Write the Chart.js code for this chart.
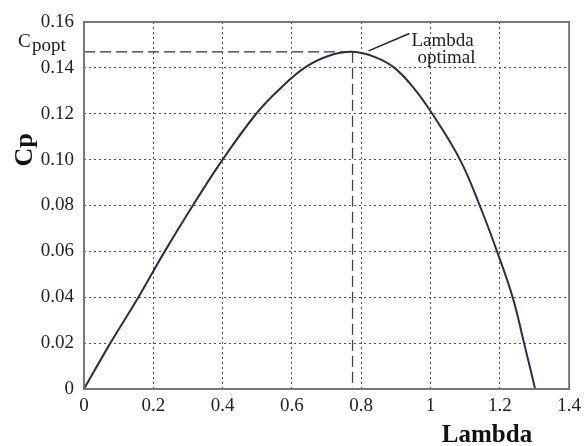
<!DOCTYPE html>
<html>
<head>
<meta charset="utf-8">
<script src="https://cdn.jsdelivr.net/npm/chart.js@4/dist/chart.umd.min.js"></script>
<style>
  html, body { margin: 0; padding: 0; background: #fff; }
  canvas { display: block; }
</style>
</head>
<body>
<canvas id="chartCp" width="587" height="446"></canvas>
<script>
const lambdaVals = [0, 0.076, 0.157, 0.233, 0.314, 0.40, 0.497, 0.565, 0.636, 0.705, 0.775, 0.84, 0.896, 0.95, 1.005, 1.085, 1.142, 1.192, 1.237, 1.27, 1.302];
const cpVals     = [0, 0.02, 0.04, 0.06, 0.08, 0.10, 0.12, 0.1308, 0.14, 0.1452, 0.147, 0.1447, 0.14, 0.1315, 0.12, 0.10, 0.08, 0.06, 0.04, 0.02, 0];

// Optimum point
const lambdaOpt = 0.775;
const cpOpt = 0.147;

// Tick labels
const xTicks = ['0', '0.2', '0.4', '0.6', '0.8', '1', '1.2', '1.4'];
const yTicks = ['0', '0.02', '0.04', '0.06', '0.08', '0.10', '0.12', '0.14', '0.16'];

const ctx = document.getElementById('chartCp').getContext('2d');
const serif = "'Liberation Serif', 'Times New Roman', serif";

const curve = lambdaVals.map((l, i) => ({ x: l, y: cpVals[i] }));

// Texts, frame and pointer drawn over the chart
const overlay = {
    id: 'overlay',
    afterDraw(chart) {
        const c = chart.ctx;
        const area = chart.chartArea;
        const xs = chart.scales.x;
        const ys = chart.scales.y;
        c.save();

        // frame around the plot
        c.strokeStyle = '#777';
        c.lineWidth = 2;
        c.strokeRect(area.left, area.top, area.right - area.left, area.bottom - area.top);

        // axis titles
        c.fillStyle = '#111';
        c.font = 'bold 25px ' + serif;
        c.textAlign = 'center';
        c.textBaseline = 'alphabetic';
        c.fillText('Lambda', 487, 442);

        c.save();
        c.translate(32, 150);
        c.rotate(-Math.PI / 2);
        c.font = 'bold 26px ' + serif;
        c.fillText('Cp', 0, 0);
        c.restore();

        // Cpopt label next to the dashed line
        const yOpt = ys.getPixelForValue(cpOpt);
        c.fillStyle = '#222';
        c.textAlign = 'left';
        c.font = '19px ' + serif;
        c.fillText('C', 18, yOpt - 5);
        c.fillText('popt', 32, yOpt - 1);

        // pointer to the optimum
        const x1 = xs.getPixelForValue(lambdaOpt) + 16;
        const y1 = yOpt - 1;
        const x2 = xs.getPixelForValue(0.939);
        const y2 = ys.getPixelForValue(0.155);
        c.strokeStyle = '#222';
        c.lineWidth = 1.5;
        c.beginPath();
        c.moveTo(x1, y1);
        c.lineTo(x2, y2);
        c.stroke();

        c.fillStyle = '#222';
        c.font = '19px ' + serif;
        c.fillText('Lambda', x2 + 2, y2 + 13);
        c.fillText('optimal', x2 + 8, y2 + 30);

        c.restore();
    }
};

const config = {
    type: 'scatter',
    data: {
        datasets: [
            {
                label: 'Cp',
                data: curve,
                showLine: true,
                borderColor: '#2b2b55',
                borderWidth: 2,
                pointRadius: 0,
                tension: 0.4
            },
            {
                label: 'Cp opt',
                data: [{ x: 0, y: cpOpt }, { x: lambdaOpt, y: cpOpt }],
                showLine: true,
                borderColor: '#333',
                borderWidth: 1.3,
                borderDash: [11, 5],
                pointRadius: 0
            },
            {
                label: 'Lambda opt',
                data: [{ x: lambdaOpt, y: cpOpt }, { x: lambdaOpt, y: 0 }],
                showLine: true,
                borderColor: '#444',
                borderWidth: 1.3,
                borderDash: [11, 5],
                pointRadius: 0
            }
        ]
    },
    options: {
        responsive: false,
        animation: false,
        layout: { padding: { top: 22, right: 14, left: 0, bottom: 0 } },
        plugins: {
            legend: { display: false },
            tooltip: { enabled: false }
        },
        scales: {
            x: {
                type: 'linear',
                min: 0,
                max: 1.4,
                ticks: {
                    stepSize: 0.2,
                    padding: 6,
                    color: '#222',
                    font: { family: serif, size: 19 },
                    maxRotation: 0,
                    callback: (v) => xTicks[Math.round(v / 0.2)]
                },
                grid: { color: '#555', lineWidth: 1, drawTicks: false },
                border: { display: false, dash: [2, 3] },
                afterFit: (s) => { s.height = 57; }
            },
            y: {
                min: 0,
                max: 0.16,
                ticks: {
                    stepSize: 0.02,
                    padding: 10,
                    color: '#222',
                    font: { family: serif, size: 19 },
                    callback: (v) => yTicks[Math.round(v / 0.02)]
                },
                grid: { color: '#555', lineWidth: 1, drawTicks: false },
                border: { display: false, dash: [2, 3] },
                afterFit: (s) => { s.width = 84; }
            }
        }
    },
    plugins: [overlay]
};

new Chart(ctx, config);
</script>
</body>
</html>
